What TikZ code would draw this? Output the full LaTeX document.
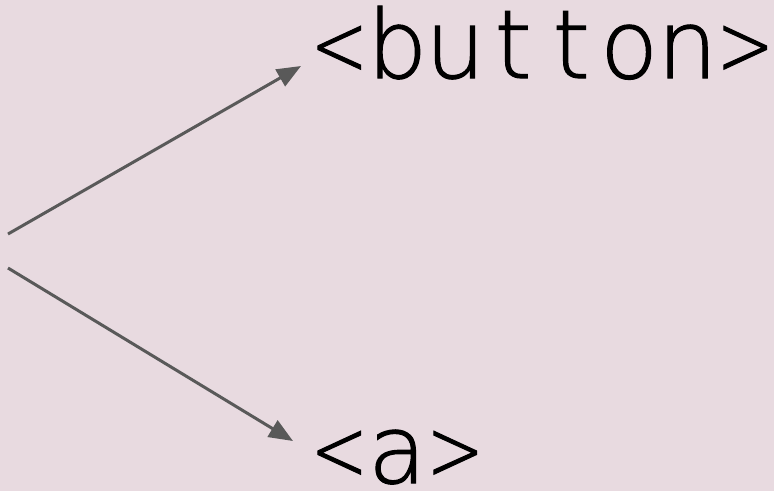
\documentclass[tikz,border=0pt]{standalone}
\usepackage{graphicx}
\usepackage{fontspec}
\newfontfamily\tagfont[FakeBold=1.2]{DejaVu Sans ExtraLight}
\usetikzlibrary{arrows.meta}
\definecolor{bg}{HTML}{E8DAE0}
\definecolor{arrowgrey}{HTML}{595959}
% set each character in a fixed-width cell, like a monospaced face
\newlength\charpitch
\setlength\charpitch{58pt}
\def\pitchchars#1{\ifx#1\relax\else\makebox[\charpitch][c]{#1}\expandafter\pitchchars\fi}
% narrower angle brackets
\newcommand\ltag{\raisebox{3pt}{\scalebox{0.72}[0.92]{<}}}
\newcommand\rtag{\raisebox{3pt}{\scalebox{0.72}[0.92]{>}}}
\tikzset{
  tag/.style={anchor=base west, inner sep=0pt, font=\tagfont\fontsize{95}{95}\selectfont, text=black},
  pointer/.style={draw=arrowgrey, line width=3pt, -{Triangle[length=24pt,width=19pt]}}
}
\begin{document}
\begin{tikzpicture}[x=1pt,y=-1pt]
  \fill[bg] (0,0) rectangle (774,491);
  \useasboundingbox (0,0) rectangle (774,491);
  \node[tag] (button) at (310,78) {\pitchchars\ltag button\rtag\relax};
  \node[tag] (anchor) at (310,483) {\pitchchars\ltag a\rtag\relax};
  \coordinate (fromtop) at (8,234);
  \coordinate (frombottom) at (8,268);
  \coordinate (totop) at (301,66);
  \coordinate (tobottom) at (293,441);
  \draw[pointer] (fromtop) -- (totop);
  \draw[pointer] (frombottom) -- (tobottom);
\end{tikzpicture}
\end{document}
